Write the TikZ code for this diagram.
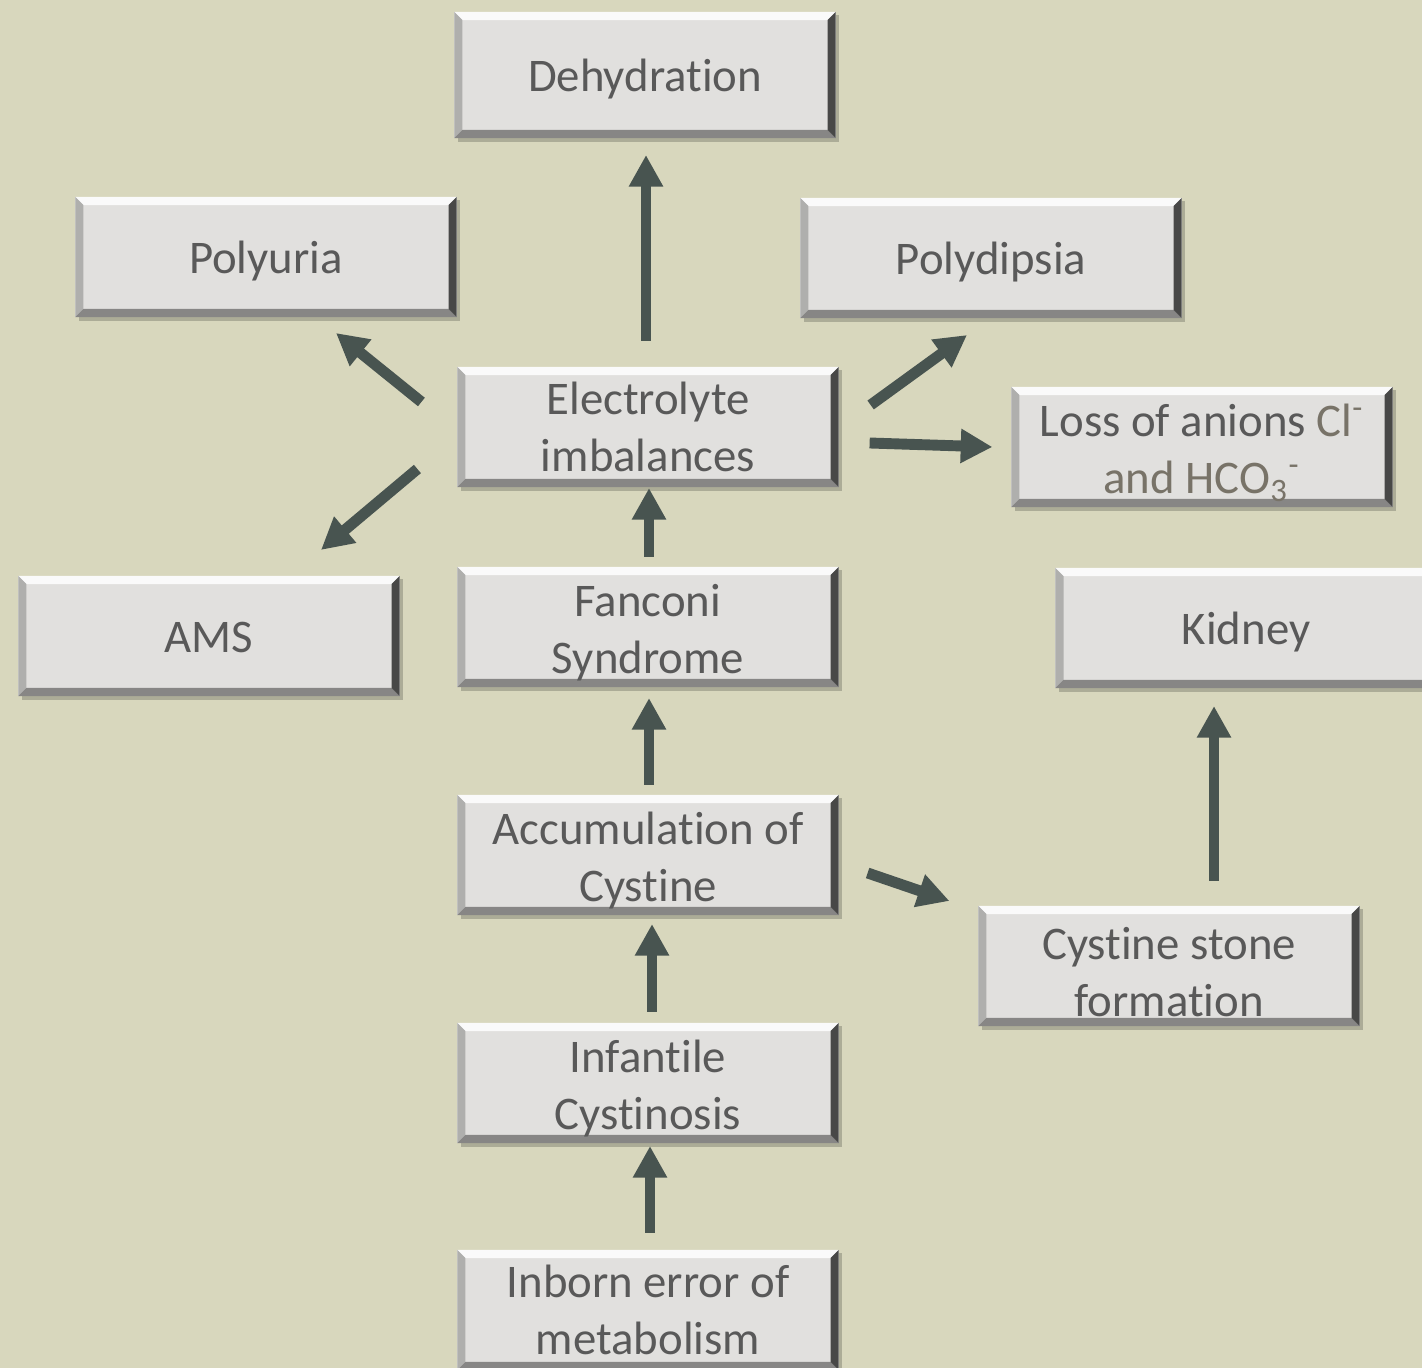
\documentclass[tikz,border=0pt]{standalone}
\usepackage{fontspec}
\setmainfont[Ligatures=NoCommon]{Carlito}
\usetikzlibrary{arrows.meta, shadows}
\definecolor{bgcolor}{RGB}{216,215,189}
\definecolor{boxcolor}{RGB}{225,224,222}
\definecolor{txtcolor}{RGB}{89,89,89}
\definecolor{ioncolor}{RGB}{120,115,104}
\definecolor{arrowcolor}{RGB}{72,84,80}
\newcommand\tstrut{\rule[-3.4pt]{0pt}{16.4pt}}
\newcommand\up{\rule{0pt}{12.5pt}}

\begin{document}
\begin{tikzpicture}[x=0.01cm, y=-0.01cm,
    box/.style={fill=boxcolor, minimum width=3.81cm, minimum height=1.2cm,
                inner sep=0pt, outer sep=0pt, align=center, text=txtcolor,
                font=\fontsize{13.3}{16.2}\selectfont,
                drop shadow={shadow xshift=1pt, shadow yshift=-1pt, fill=black, opacity=0.2},
                path picture={
                  \coordinate (p1) at (path picture bounding box.north west);
                  \coordinate (p2) at (path picture bounding box.north east);
                  \coordinate (p3) at (path picture bounding box.south east);
                  \coordinate (p4) at (path picture bounding box.south west);
                  \fill[white!85!boxcolor] (p1) -- (p2) -- ([shift={(-2.3pt,-2.3pt)}]p2) -- ([shift={(2.3pt,-2.3pt)}]p1) -- cycle;
                  \fill[black!22!boxcolor] (p1) -- ([shift={(2.3pt,-2.3pt)}]p1) -- ([shift={(2.3pt,2.3pt)}]p4) -- (p4) -- cycle;
                  \fill[black!40!boxcolor] (p4) -- ([shift={(2.3pt,2.3pt)}]p4) -- ([shift={(-2.3pt,2.3pt)}]p3) -- (p3) -- cycle;
                  \fill[black!68!boxcolor] (p3) -- ([shift={(-2.3pt,2.3pt)}]p3) -- ([shift={(-2.3pt,-2.3pt)}]p2) -- (p2) -- cycle;
                }},
    one/.style={box, execute at begin node=\tstrut, execute at end node=\tstrut},
    arr/.style={draw=arrowcolor, line width=3.1pt, -{Triangle[width=9.2pt, length=9pt]}}]
  \useasboundingbox (0,0) rectangle (1422,1368);
  \fill[bgcolor] (0,0) rectangle (1422,1368);

  % boxes
  \node[one, minimum height=1.26cm] (deh) at (645,75) {Dehydration};
  \node[one] (pu) at (266,257) {Polyuria};
  \node[one] (pd) at (991,258) {Polydipsia};
  \node[box] (el) at (648,427) {Electrolyte\\imbalances};
  \node[box] (loss) at (1202,447)
    {\up Loss of anions {\color{ioncolor}Cl\textsuperscript{-}}\\
     {\color{ioncolor}and HCO\textsubscript{3}\textsuperscript{-}}};
  \node[one] (ams) at (209,636) {AMS};
  \node[box] (fan) at (648,627) {\up Fanconi\\Syndrome};
  \node[one] (kid) at (1246,628) {Kidney};
  \node[box] (acc) at (648,855) {\up Accumulation of\\Cystine};
  \node[box] (cys) at (1169,966) {\up Cystine stone\\formation};
  \node[box] (inf) at (648,1083) {\up Infantile\\Cystinosis};
  \node[box] (inb) at (648,1310) {Inborn error of\\metabolism};

  % arrows
  \draw[arr] ([shift={(-2,-26)}]el.north) -- ([shift={(1,17)}]deh.south);
  \draw[arr] ([shift={(-36,-25)}]el.west) -- ([shift={(70,16)}]pu.south);
  \draw[arr] ([shift={(-40,42)}]el.west) -- ([shift={(112,-26)}]ams.north);
  \draw[arr] ([shift={(32,-22)}]el.east) -- ([shift={(-24,17)}]pd.south);
  \draw[arr] ([shift={(31,16)}]el.east) -- ([shift={(-19,0)}]loss.west);
  \draw[arr] ([shift={(1,-10)}]fan.north) -- ([shift={(1,1)}]el.south);
  \draw[arr] ([shift={(1,-10)}]acc.north) -- ([shift={(1,11)}]fan.south);
  \draw[arr] ([shift={(29,18)}]acc.east) -- ([shift={(-29,-5)}]cys.north west);
  \draw[arr] ([shift={(4,-11)}]inf.north) -- ([shift={(4,9)}]acc.south);
  \draw[arr] ([shift={(2,-17)}]inb.north) -- ([shift={(2,3)}]inf.south);
  \draw[arr] ([shift={(45,-25)}]cys.north) -- ([shift={(-32,18)}]kid.south);
\end{tikzpicture}
\end{document}
